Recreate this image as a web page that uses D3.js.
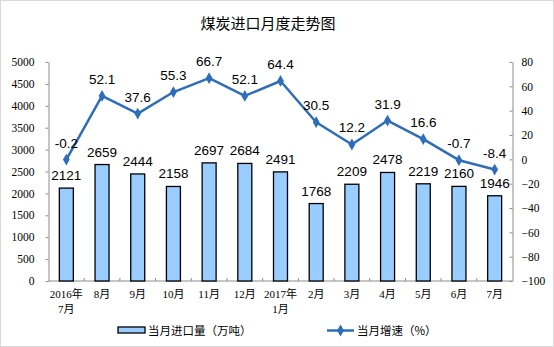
<!DOCTYPE html>
<html>
<head>
<meta charset="utf-8">
<script src="https://cdn.jsdelivr.net/npm/d3@7"></script>
<style>
  html, body { margin: 0; padding: 0; background: #fff; }
  svg { display: block; }
</style>
</head>
<body>
<svg id="chart" width="554" height="347"></svg>
<script>
// Monthly coal imports, Jul 2016 – Jul 2017
const months = ["2016年|7月", "8月", "9月", "10月", "11月", "12月", "2017年|1月", "2月", "3月", "4月", "5月", "6月", "7月"];
const importVolume = [2121, 2659, 2444, 2158, 2697, 2684, 2491, 1768, 2209, 2478, 2219, 2160, 1946]; // 万吨
const growthRate = [-0.2, 52.1, 37.6, 55.3, 66.7, 52.1, 64.4, 30.5, 12.2, 31.9, 16.6, -0.7, -8.4];   // %
const leftTicks = [0, 500, 1000, 1500, 2000, 2500, 3000, 3500, 4000, 4500, 5000];
const rightTicks = [-100, -80, -60, -40, -20, 0, 20, 40, 60, 80];

const title = "煤炭进口月度走势图";
const barLegend = "当月进口量（万吨）";
const lineLegend = "当月增速（%）";

const W = 554, H = 347;
const plot = { left: 48.5, right: 512.5, top: 62, bottom: 281 };
const barColor = "#99CCFF";
const lineColor = "#2E6DBA";
const axisColor = "#8C8C8C";

const svg = d3.select("#chart");

// outer frame
svg.append("rect")
  .attr("x", 0.5).attr("y", 0.5)
  .attr("width", W - 1).attr("height", H - 1)
  .attr("fill", "#fff").attr("stroke", "#D9D9D9");

// title
svg.append("text")
  .attr("x", 268).attr("y", 29)
  .attr("text-anchor", "middle")
  .attr("font-family", "'Noto Sans CJK SC', sans-serif")
  .attr("font-size", 15)
  .attr("fill", "#000")
  .text(title);

const x = d3.scaleBand().domain(d3.range(months.length)).range([plot.left, plot.right]);
const yL = d3.scaleLinear().domain([0, 5000]).range([plot.bottom, plot.top]);
const yR = d3.scaleLinear().domain([-100, 80]).range([plot.bottom, plot.top]);

const tickFont = "'Liberation Serif', 'Times New Roman', serif";

// left axis
const gL = svg.append("g")
  .attr("transform", `translate(${plot.left},0)`)
  .call(d3.axisLeft(yL).tickValues(leftTicks).tickFormat(d3.format("d"))
    .tickSizeInner(3).tickSizeOuter(0).tickPadding(11));
gL.select(".domain").attr("stroke", axisColor);
gL.selectAll(".tick line").attr("stroke", axisColor);
gL.selectAll(".tick text").attr("font-family", tickFont).attr("font-size", 11.5).attr("fill", "#000");

// right axis (ticks pointing inward)
const gR = svg.append("g")
  .attr("transform", `translate(${plot.right},0)`)
  .call(d3.axisRight(yR).tickValues(rightTicks).tickFormat(d3.format("d"))
    .tickSizeInner(-3).tickSizeOuter(0).tickPadding(9));
gR.select(".domain").attr("stroke", axisColor);
gR.selectAll(".tick line").attr("stroke", axisColor);
gR.selectAll(".tick text").attr("font-family", tickFont).attr("font-size", 11.5).attr("fill", "#000");

// bottom axis: baseline, separators between months, two-line labels
const gB = svg.append("g").attr("transform", `translate(0,${plot.bottom})`);
gB.append("line")
  .attr("x1", plot.left).attr("x2", plot.right)
  .attr("stroke", axisColor);
gB.selectAll("line.sep")
  .data(d3.range(1, months.length))
  .join("line")
  .attr("class", "sep")
  .attr("x1", i => x(i)).attr("x2", i => x(i))
  .attr("y1", 0).attr("y2", -3)
  .attr("stroke", axisColor);
const xl = gB.selectAll("text.xl")
  .data(months)
  .join("text")
  .attr("class", "xl")
  .attr("text-anchor", "middle")
  .attr("font-family", "'Liberation Serif', 'Noto Sans CJK SC', serif")
  .attr("font-size", 11)
  .attr("fill", "#000");
xl.each(function(d, i) {
  const parts = d.split("|");
  const cx = x(i) + x.bandwidth() / 2;
  d3.select(this).selectAll("tspan")
    .data(parts)
    .join("tspan")
    .attr("x", cx)
    .attr("y", (p, j) => 17 + j * 15)
    .text(p => p);
});

// bars
const barW = 14;
svg.append("g").selectAll("rect")
  .data(importVolume)
  .join("rect")
  .attr("x", (d, i) => x(i) + x.bandwidth() / 2 - barW / 2)
  .attr("y", d => yL(d))
  .attr("width", barW)
  .attr("height", d => yL(0) - yL(d))
  .attr("fill", barColor)
  .attr("stroke", "#000")
  .attr("stroke-width", 1.3);

const labelFont = "'Liberation Sans', Arial, sans-serif";

// bar value labels
svg.append("g").selectAll("text")
  .data(importVolume)
  .join("text")
  .attr("x", (d, i) => x(i) + x.bandwidth() / 2)
  .attr("y", d => yL(d) - 8)
  .attr("text-anchor", "middle")
  .attr("font-family", labelFont)
  .attr("font-size", 13.5)
  .attr("fill", "#000")
  .text(d => d);

// growth line
const line = d3.line()
  .x((d, i) => x(i) + x.bandwidth() / 2)
  .y(d => yR(d));
svg.append("path")
  .datum(growthRate)
  .attr("d", line)
  .attr("fill", "none")
  .attr("stroke", lineColor)
  .attr("stroke-width", 2.5)
  .attr("stroke-linejoin", "round");

const diamond = d3.symbol().type(d3.symbolDiamond).size(40);
svg.append("g").selectAll("path")
  .data(growthRate)
  .join("path")
  .attr("transform", (d, i) => `translate(${x(i) + x.bandwidth() / 2},${yR(d)})`)
  .attr("d", diamond)
  .attr("fill", lineColor);

// growth value labels
svg.append("g").selectAll("text")
  .data(growthRate)
  .join("text")
  .attr("x", (d, i) => x(i) + x.bandwidth() / 2)
  .attr("y", d => yR(d) - 12)
  .attr("text-anchor", "middle")
  .attr("font-family", labelFont)
  .attr("font-size", 13.5)
  .attr("fill", "#000")
  .text(d => d.toFixed(1));

// legend
const legendFont = "'Noto Sans CJK SC', sans-serif";
const lg = svg.append("g");
lg.append("rect")
  .attr("x", 118).attr("y", 327)
  .attr("width", 27).attr("height", 6)
  .attr("fill", barColor).attr("stroke", "#000").attr("stroke-width", 1.3);
lg.append("text")
  .attr("x", 148).attr("y", 334.5)
  .attr("font-family", legendFont).attr("font-size", 11.5).attr("fill", "#000")
  .text(barLegend);
lg.append("line")
  .attr("x1", 327).attr("x2", 354).attr("y1", 330.5).attr("y2", 330.5)
  .attr("stroke", lineColor).attr("stroke-width", 2.5);
lg.append("path")
  .attr("transform", "translate(340.5,330.5)")
  .attr("d", diamond)
  .attr("fill", lineColor);
lg.append("text")
  .attr("x", 357).attr("y", 334.5)
  .attr("font-family", legendFont).attr("font-size", 11.5).attr("fill", "#000")
  .text(lineLegend);
</script>
</body>
</html>
